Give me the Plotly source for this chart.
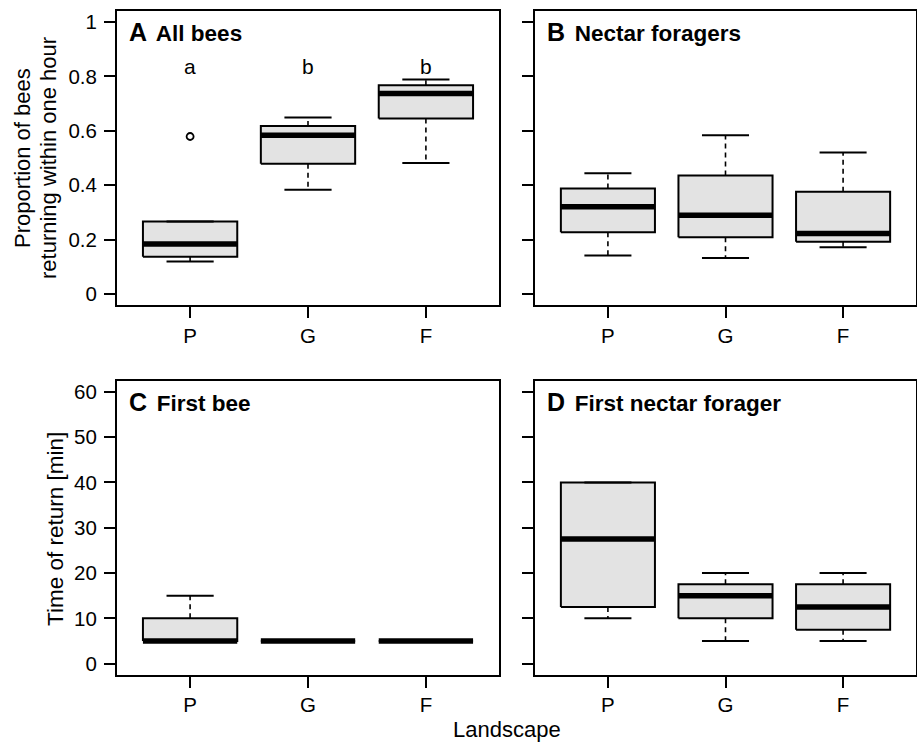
import plotly.graph_objects as go

W, H = 917, 744

categories = ["P", "G", "F"]
positions = [1, 2, 3]

# Panel A: All bees (proportion returning within one hour)
A_lower = [0.120, 0.383, 0.482]
A_q1 = [0.137, 0.479, 0.645]
A_med = [0.184, 0.584, 0.737]
A_q3 = [0.267, 0.618, 0.767]
A_upper = [0.267, 0.649, 0.788]
A_outliers_x = ["P"]
A_outliers_y = [0.579]
A_letters = ["a", "b", "b"]

# Panel B: Nectar foragers
B_lower = [0.142, 0.133, 0.172]
B_q1 = [0.227, 0.209, 0.192]
B_med = [0.321, 0.290, 0.223]
B_q3 = [0.388, 0.436, 0.376]
B_upper = [0.444, 0.584, 0.520]

# Panel C: First bee (time of return, min)
C_lower = [5, 5, 5]
C_q1 = [5, 5, 5]
C_med = [5, 5, 5]
C_q3 = [10, 5, 5]
C_upper = [15, 5, 5]

# Panel D: First nectar forager
D_lower = [10, 5, 5]
D_q1 = [12.5, 10, 7.5]
D_med = [27.5, 15, 12.5]
D_q3 = [40, 17.5, 17.5]
D_upper = [40, 20, 20]

prop_ticks = [0, 0.2, 0.4, 0.6, 0.8, 1]
prop_ticktext = ["0", "0.2", "0.4", "0.6", "0.8", "1"]
time_ticks = [0, 10, 20, 30, 40, 50, 60]
time_ticktext = ["0", "10", "20", "30", "40", "50", "60"]

FONT = "Liberation Sans, Arial, Helvetica, sans-serif"
FILL = "#E3E3E3"
HALF = 0.4
CAP = 0.2

fig = go.Figure()


def add_boxes(xa, ya, lower, q1, med, q3, upper):
    for pos, lo, a, m, b, hi in zip(positions, lower, q1, med, q3, upper):
        # box body
        fig.add_trace(go.Scatter(
            x=[pos - HALF, pos + HALF, pos + HALF, pos - HALF, pos - HALF],
            y=[a, a, b, b, a], mode="lines", fill="toself", fillcolor=FILL,
            line=dict(color="black", width=2), xaxis=xa, yaxis=ya,
            showlegend=False, hoverinfo="skip"))
        # dashed whiskers
        wx, wy = [], []
        if hi > b:
            wx += [pos, pos, None]
            wy += [b, hi, None]
        if lo < a:
            wx += [pos, pos, None]
            wy += [a, lo, None]
        if wx:
            fig.add_trace(go.Scatter(
                x=wx, y=wy, mode="lines",
                line=dict(color="black", width=1.6, dash="5px,4px"),
                xaxis=xa, yaxis=ya, showlegend=False, hoverinfo="skip"))
        # caps
        if hi > a or lo < a:
            fig.add_trace(go.Scatter(
                x=[pos - CAP, pos + CAP, None, pos - CAP, pos + CAP],
                y=[hi, hi, None, lo, lo], mode="lines",
                line=dict(color="black", width=2),
                xaxis=xa, yaxis=ya, showlegend=False, hoverinfo="skip"))
        # median
        fig.add_trace(go.Scatter(
            x=[pos - HALF, pos + HALF], y=[m, m], mode="lines",
            line=dict(color="black", width=5.5),
            xaxis=xa, yaxis=ya, showlegend=False, hoverinfo="skip"))


add_boxes("x", "y", A_lower, A_q1, A_med, A_q3, A_upper)
add_boxes("x2", "y2", B_lower, B_q1, B_med, B_q3, B_upper)
add_boxes("x3", "y3", C_lower, C_q1, C_med, C_q3, C_upper)
add_boxes("x4", "y4", D_lower, D_q1, D_med, D_q3, D_upper)

fig.add_trace(go.Scatter(
    x=[positions[categories.index(c)] for c in A_outliers_x], y=A_outliers_y,
    mode="markers", marker=dict(symbol="circle-open", size=7, color="black",
                                line=dict(width=1.8)),
    xaxis="x", yaxis="y", showlegend=False, hoverinfo="skip"))


def px_x(p):
    return p / W


def px_y(p):
    return 1 - p / H


dom = {
    "A": ([px_x(117), px_x(499)], [px_y(305), px_y(11)]),
    "B": ([px_x(535), px_x(916)], [px_y(305), px_y(11)]),
    "C": ([px_x(117), px_x(499)], [px_y(674.5), px_y(381)]),
    "D": ([px_x(535), px_x(916)], [px_y(674.5), px_y(381)]),
}

xcommon = dict(range=[0.38, 3.62], tickvals=positions, ticktext=categories,
               ticks="outside", ticklen=11, tickwidth=2, tickcolor="black",
               showline=True, mirror=True, linewidth=2, linecolor="black",
               showgrid=False, zeroline=False, ticklabelstandoff=0,
               tickfont=dict(family=FONT, size=20.5, color="black"))
ycommon = dict(ticks="outside", ticklen=11, tickwidth=2, tickcolor="black",
               showline=True, mirror=True, linewidth=2, linecolor="black",
               showgrid=False, zeroline=False, ticklabelstandoff=3,
               tickfont=dict(family=FONT, size=20.5, color="black"))

fig.update_layout(
    width=W, height=H, margin=dict(l=0, r=0, t=0, b=0),
    paper_bgcolor="white", plot_bgcolor="white", showlegend=False,
    xaxis=dict(domain=dom["A"][0], anchor="y", **xcommon),
    yaxis=dict(domain=dom["A"][1], anchor="x", range=[-0.04, 1.04],
               tickvals=prop_ticks, ticktext=prop_ticktext, **ycommon),
    xaxis2=dict(domain=dom["B"][0], anchor="y2", **xcommon),
    yaxis2=dict(domain=dom["B"][1], anchor="x2", range=[-0.04, 1.04],
                tickvals=prop_ticks, showticklabels=False, **ycommon),
    xaxis3=dict(domain=dom["C"][0], anchor="y3", **xcommon),
    yaxis3=dict(domain=dom["C"][1], anchor="x3", range=[-2.4, 62.4],
                tickvals=time_ticks, ticktext=time_ticktext, **ycommon),
    xaxis4=dict(domain=dom["D"][0], anchor="y4", **xcommon),
    yaxis4=dict(domain=dom["D"][1], anchor="x4", range=[-2.4, 62.4],
                tickvals=time_ticks, showticklabels=False, **ycommon),
)

annotations = []
titles = [("x", "y", "A", "All bees"), ("x2", "y2", "B", "Nectar foragers"),
          ("x3", "y3", "C", "First bee"), ("x4", "y4", "D", "First nectar forager")]
for xa, ya, letter, name in titles:
    annotations.append(dict(
        xref=xa + " domain", yref=ya + " domain", x=0.026, y=0.93,
        xanchor="left", yanchor="middle", showarrow=False,
        text="<b><span style='font-size:25px'>" + letter + " </span>"
             "<span style='font-size:10px'> </span>" + name + "</b>",
        font=dict(family=FONT, size=22.5, color="black")))

for pos, letter in zip(positions, A_letters):
    annotations.append(dict(xref="x", yref="y", x=pos, y=0.836, text=letter,
                            showarrow=False, xanchor="center", yanchor="middle",
                            font=dict(family=FONT, size=21, color="black")))

annotations += [
    dict(xref="paper", yref="paper", x=px_x(22), y=px_y(158), text="Proportion of bees",
         textangle=-90, showarrow=False, xanchor="center", yanchor="middle",
         font=dict(family=FONT, size=22, color="black")),
    dict(xref="paper", yref="paper", x=px_x(48), y=px_y(158), text="returning within one hour",
         textangle=-90, showarrow=False, xanchor="center", yanchor="middle",
         font=dict(family=FONT, size=22, color="black")),
    dict(xref="paper", yref="paper", x=px_x(55), y=px_y(529), text="Time of return [min]",
         textangle=-90, showarrow=False, xanchor="center", yanchor="middle",
         font=dict(family=FONT, size=22.5, color="black")),
    dict(xref="paper", yref="paper", x=px_x(506.5), y=px_y(729), text="Landscape",
         showarrow=False, xanchor="center", yanchor="middle",
         font=dict(family=FONT, size=22, color="black")),
]
fig.update_layout(annotations=annotations)

fig.write_html("out.html", config={"displayModeBar": False},
               post_script="document.body.style.margin='0px';")
